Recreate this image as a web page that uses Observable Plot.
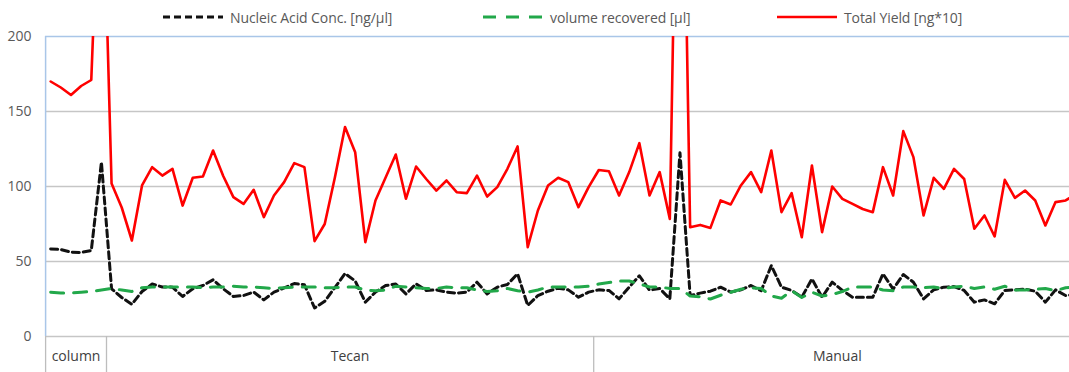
<!DOCTYPE html>
<html><head><meta charset="utf-8">
<script src="https://cdn.jsdelivr.net/npm/d3@7"></script>
<script src="https://cdn.jsdelivr.net/npm/@observablehq/plot@0.6"></script>
<style>
body{margin:0;background:#fff;}
#wrap{position:relative;width:1069px;height:372px;overflow:hidden;font-family:"Open Sans",sans-serif;}
#legend{position:relative;height:30px;z-index:2;}
.item{position:absolute;top:8px;height:18px;display:flex;align-items:center;font-size:14px;color:#595959;white-space:nowrap;letter-spacing:-0.1px;}
.item svg{margin-right:7px;}
#chart svg{overflow:visible;}
</style></head><body>
<div id="wrap"><div id="legend"></div><div id="chart"></div></div>
<script>
const groupNames = ["column", "Tecan", "Manual"];
const groupSizes = [6, 48, 48];
const seriesNames = ["Nucleic Acid Conc. [ng/µl]", "volume recovered [µl]", "Total Yield [ng*10]"];
const yTicks = [0, 50, 100, 150, 200];

const conc = [58.4,58,56.2,56,57.3,116.2,
 31.8,26,21.5,30,35,33,32.9,26.7,31.8,34,37.8,31.8,26.7,27.3,29.6,24.4,29.6,32.4,35.3,34.5,19,23.5,32.6,42,37,22.9,29.6,34,35,28.4,35.1,30.7,31.1,29.6,28.9,29.6,36.2,28.4,32.9,34.7,41.8,20.7,27.3,30.2,32.2,31.1,26.2,29.6,
 31.1,30.7,25.1,32.9,40.5,30.9,32,25.1,122.5,27.3,28.9,30.2,32.9,29.6,31.1,34,30.5,47.3,32.9,30.7,26.2,38.4,26.2,36.2,30.7,26.2,26.2,26.2,41.8,31.6,41.3,36.2,25.1,31.1,32.9,33.3,30.7,22.9,24.4,21.8,30.7,31.1,31.6,30.2,22.9,31.1,27.3,28];

const volume = [29.5,29,29,29.5,30,31,
 32,31,30,32.5,33,33,33,33,33,32.5,33,33,33.5,33,33,32.5,32,32.5,33,33,33,32.5,32.5,33,33,31,30.5,31,33.5,33,32.5,32,32,33,32.5,32.5,31,30,30.5,32,30.5,29.5,31,33,33,33,33,33.5,
 35,36,37,37,35,33,33,32,32,27,26.5,25,27.5,29.5,31.5,32.5,32,27,25.5,30.5,26,29.5,27,28,30,33,33,33,31,30.5,33,33,32.5,33,32,33,33.5,32,33,31.5,33.5,31,31,31.5,32,30.5,32.5,33];

const yieldTotal = [170,166,161,167,171,345,
 102,86,64,100.7,112.9,107.3,111.8,87.3,105.8,106.7,124,107,92.9,88.4,97.8,79.6,94,102.9,115.6,112.9,63.6,75,106,139.6,122.9,62.9,90.7,106,121.3,91.8,113.3,105,97.3,104,96.2,95.6,107.3,93.3,99.6,111.8,126.7,59.6,84,100.7,105.8,102.9,86.2,99.6,
 111,110.2,94,109.6,128.9,94,109.6,78.4,465,72.9,74.4,72.4,90.7,88,100.7,109.6,96.2,124,82.9,95.6,66.2,114,69.6,100,91.8,88.4,85,82.9,112.9,94,136.9,119.6,80.7,105.8,98.4,111.8,105,71.8,80.7,66.7,104.4,92.4,97.3,90.7,74,89.6,90.7,95];

const colors = ["#111111", "#22a84a", "#ff0000"];
const dashes = ["7,4", "13,10", null];
const widths = [3, 3, 2.6];

const data = conc.map((c, i) => ({x: i + 0.5, conc: c, volume: volume[i], yield: yieldTotal[i]}));
let acc = 0;
const groups = groupNames.map((g, k) => { const s = acc; acc += groupSizes[k]; return {name: g, start: s, end: acc, mid: (s + acc) / 2}; });
const total = acc;

const legend = document.getElementById("legend");
const legendLeft = [163, 483, 777];
seriesNames.forEach((n, k) => {
  const d = document.createElement("div");
  d.className = "item";
  d.style.left = legendLeft[k] + "px";
  d.innerHTML = `<svg width="60" height="6"><line x1="0" x2="60" y1="3" y2="3" stroke="${colors[k]}" stroke-width="${widths[k]}" ${dashes[k] ? `stroke-dasharray="${dashes[k]}"` : ""}/></svg><span>${n}</span>`;
  legend.appendChild(d);
});

const plot = Plot.plot({
  width: 1069,
  height: 342,
  marginTop: 6,
  marginBottom: 36,
  marginLeft: 45,
  marginRight: 0,
  style: {color: "#595959", fontFamily: "'Open Sans', sans-serif", background: "white", overflow: "visible"},
  x: {domain: [0, total], range: [45.1, 45.1 + total * 10.15], axis: null},
  y: {domain: [0, 200]},
  marks: [
    Plot.ruleY(yTicks.slice(0, -1), {stroke: "#c6c6c6", strokeWidth: 1.5}),
    Plot.ruleY([200], {stroke: "#a9c6e8", strokeWidth: 1.3}),
    Plot.ruleX([0], {y1: 0, y2: 200, stroke: "#a9c6e8", strokeWidth: 1.5}),
    Plot.ruleX(groups.map(g => g.start), {y1: 0, y2: -24, stroke: "#bdbdbd", strokeWidth: 1.3}),
    Plot.axisY({ticks: yTicks, tickSize: 0, tickPadding: 14, fontSize: 14, label: null}),
    Plot.text(groups, {x: "mid", y: 0, dy: 20, text: "name", fontSize: 14, fill: "#404040"}),
    Plot.line(data, {x: "x", y: "conc", stroke: colors[0], strokeWidth: widths[0], strokeDasharray: dashes[0], clip: true}),
    Plot.line(data, {x: "x", y: "volume", stroke: colors[1], strokeWidth: widths[1], strokeDasharray: dashes[1], clip: true}),
    Plot.line(data, {x: "x", y: "yield", stroke: colors[2], strokeWidth: widths[2], clip: true})
  ]
});
document.getElementById("chart").appendChild(plot);
</script>
</body></html>
